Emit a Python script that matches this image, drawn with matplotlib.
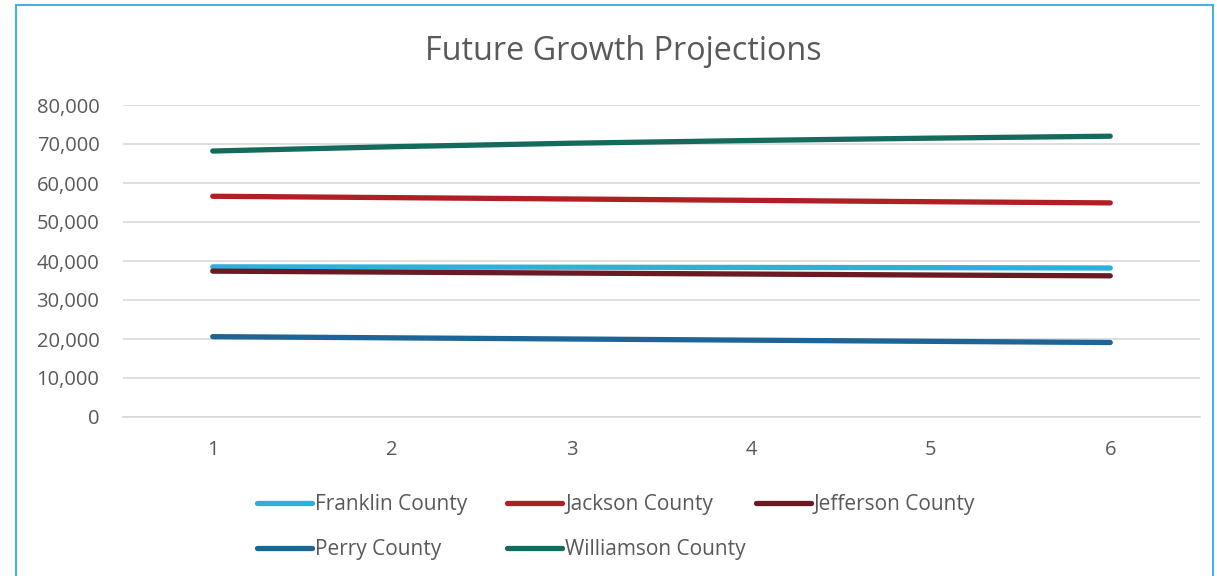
import numpy as np
import matplotlib.pyplot as plt
from matplotlib.patches import Rectangle
from matplotlib.ticker import FuncFormatter

plt.rcParams['font.family'] = ['Open Sans', 'DejaVu Sans']

years = [1, 2, 3, 4, 5, 6]
franklin = [38500, 38450, 38400, 38350, 38300, 38200]
jackson = [56600, 56250, 55900, 55550, 55200, 54900]
jefferson = [37400, 37150, 36900, 36650, 36400, 36200]
perry = [20600, 20300, 20000, 19700, 19400, 19100]
williamson = [68200, 69300, 70200, 70900, 71500, 72000]

series = [
    ("Franklin County", franklin, "#2EB0DD"),
    ("Jackson County", jackson, "#B01F24"),
    ("Jefferson County", jefferson, "#6A1A22"),
    ("Perry County", perry, "#1F6497"),
    ("Williamson County", williamson, "#146B5C"),
]

grey = "#595959"
fig = plt.figure(figsize=(12.17, 5.76), dpi=100)
ax = fig.add_axes([123/1217, 1-417/576, (1200-123)/1217, (417-105)/576])

lines = {}
for name, vals, col in series:
    ln, = ax.plot(years, vals, color=col, lw=3.8, label=name, solid_capstyle='round')
    lines[name] = ln

ax.set_xlim(0.5, 6.5)
ax.set_ylim(0, 80000)
ax.set_yticks(np.arange(0, 80001, 10000))
ax.set_xticks(years)
ax.yaxis.set_major_formatter(FuncFormatter(lambda v, p: f"{int(v):,}"))
ax.grid(axis='y', color="#D9D9D9", lw=1.2)
ax.set_axisbelow(True)
for s in ['top', 'right', 'left']:
    ax.spines[s].set_visible(False)
ax.spines['bottom'].set_color("#D9D9D9")
ax.spines['bottom'].set_linewidth(1.2)
ax.tick_params(axis='both', length=0, labelsize=14.5, colors=grey)
ax.tick_params(axis='y', pad=17)
ax.tick_params(axis='x', pad=16.5)

fig.text(623/1217, 1-52/576, "Future Growth Projections", ha='center', va='center',
         fontsize=23.3, color=grey)

# legend laid out in rows like the original, one legend per column
legend_cols = [
    (257, ["Franklin County", "Perry County"]),
    (507, ["Jackson County", "Williamson County"]),
    (756, ["Jefferson County"]),
]
for x0, names in legend_cols:
    leg = fig.legend([lines[n] for n in names], names, loc='upper left',
                     bbox_to_anchor=(x0/1217, 1-494/576), ncol=1, frameon=False,
                     fontsize=15, handlelength=2.64, handletextpad=0.15,
                     labelspacing=1.15, borderaxespad=0, borderpad=0)
    for t in leg.get_texts():
        t.set_color(grey)

fig.patches.append(Rectangle((16/1217, -0.02), (1213-16)/1217, 1.02-5/576,
                             transform=fig.transFigure, fill=False,
                             edgecolor="#41B4E4", lw=1.5))

fig.savefig("out.png", dpi=100)
